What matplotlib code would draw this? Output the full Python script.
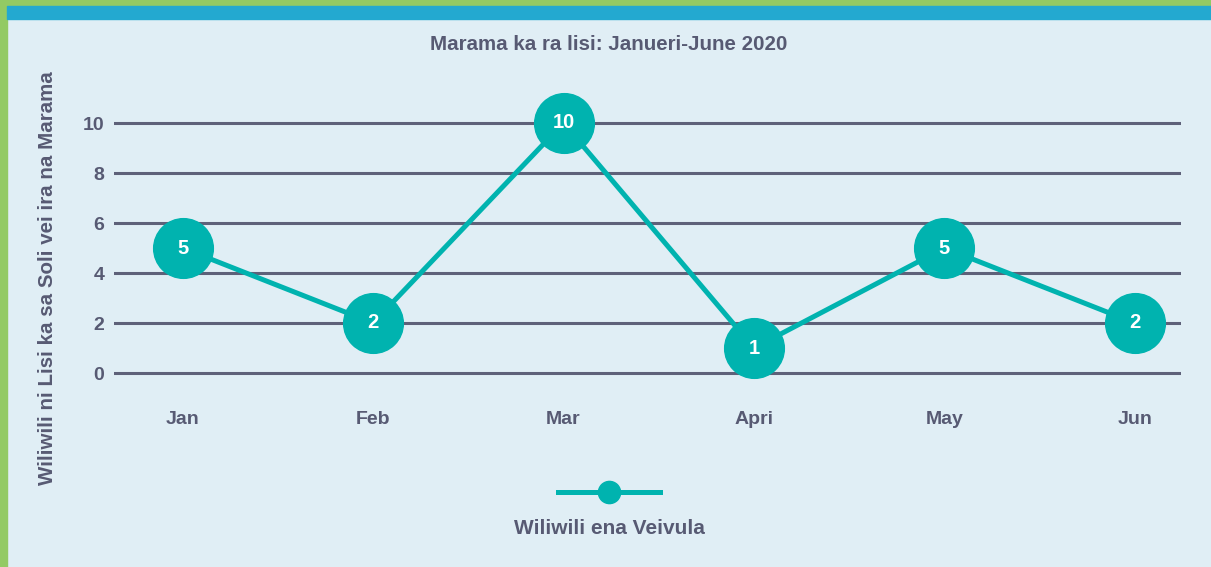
import matplotlib
matplotlib.use('Agg')
from matplotlib import pyplot as plt
from matplotlib.lines import Line2D
from matplotlib.patches import Rectangle

months = ['Jan', 'Feb', 'Mar', 'Apri', 'May', 'Jun']
counts = [5, 2, 10, 1, 5, 2]
yticks = [0, 2, 4, 6, 8, 10]

TITLE = 'Marama ka ra lisi: Janueri-June 2020'
YLABEL = 'Wiliwili ni Lisi ka sa Soli vei ira na Marama'
SERIES = 'Wiliwili ena Veivula'

BG = '#E0EEF5'
GREEN = '#93CA64'
BLUE = '#23A9D0'
TEAL = '#00B3AF'
TEXT = '#575A73'
GRID = '#5E6179'

plt.rcParams['font.family'] = ['Liberation Sans', 'DejaVu Sans']
plt.rcParams['font.weight'] = 'bold'

fig = plt.figure(figsize=(12.11, 5.67), dpi=100, facecolor=BG)
W, H = 1211, 567

# frame: green border + blue strip
fig.patches.append(Rectangle((0, 1 - 6 / H), 1, 6 / H, transform=fig.transFigure,
                             color=GREEN, zorder=0))
fig.patches.append(Rectangle((0, 0), 7 / W, 1, transform=fig.transFigure,
                             color=GREEN, zorder=0))
fig.patches.append(Rectangle((7 / W, 1 - 19 / H), 1, 13 / H, transform=fig.transFigure,
                             color=BLUE, zorder=0))

ax = fig.add_axes([114 / W, 1 - 398 / H, 1067 / W, 287.5 / H])
ax.set_facecolor('none')
x = list(range(len(months)))
ax.plot(x, counts, color=TEAL, lw=3.6, marker='o', ms=43, mec=TEAL, mfc=TEAL,
        clip_on=False, zorder=3)
for xi, v in zip(x, counts):
  ax.text(xi, v, str(v), ha='center', va='center', color='white', fontsize=14.5,
          fontweight='bold', zorder=4)

ax.set_xlim(-0.36, 5.242)
ax.set_ylim(-1, 10.5)
ax.set_yticks(yticks)
ax.set_xticks(x)
ax.set_xticklabels(months)
ax.tick_params(axis='both', length=0, labelcolor=TEXT, labelsize=14)
ax.tick_params(axis='x', pad=9)
ax.tick_params(axis='y', pad=7)
for lab in ax.get_xticklabels() + ax.get_yticklabels():
  lab.set_fontweight('bold')
ax.grid(True, axis='y', color=GRID, lw=2.2, zorder=1)
ax.set_axisbelow(True)
for s in ax.spines.values():
  s.set_visible(False)

ax.set_ylabel(YLABEL, color=TEXT, fontsize=14.8, fontweight='bold')
ax.yaxis.set_label_coords(-0.053, 0.417)

fig.text(609 / W, 1 - 44 / H, TITLE, ha='center', va='center', color=TEXT,
         fontsize=14.8, fontweight='bold')

# legend, drawn by hand (label sits under the swatch)
fig.add_artist(Line2D([558 / W, 660 / W], [1 - 492 / H, 1 - 492 / H],
                      transform=fig.transFigure, color=TEAL, lw=3.6))
fig.add_artist(Line2D([609 / W], [1 - 492 / H], transform=fig.transFigure,
                      marker='o', ms=16, color=TEAL))
fig.text(609 / W, 1 - 529 / H, SERIES, ha='center', va='center', color=TEXT,
         fontsize=15, fontweight='bold')

fig.savefig('out.png', dpi=100, facecolor=BG)
